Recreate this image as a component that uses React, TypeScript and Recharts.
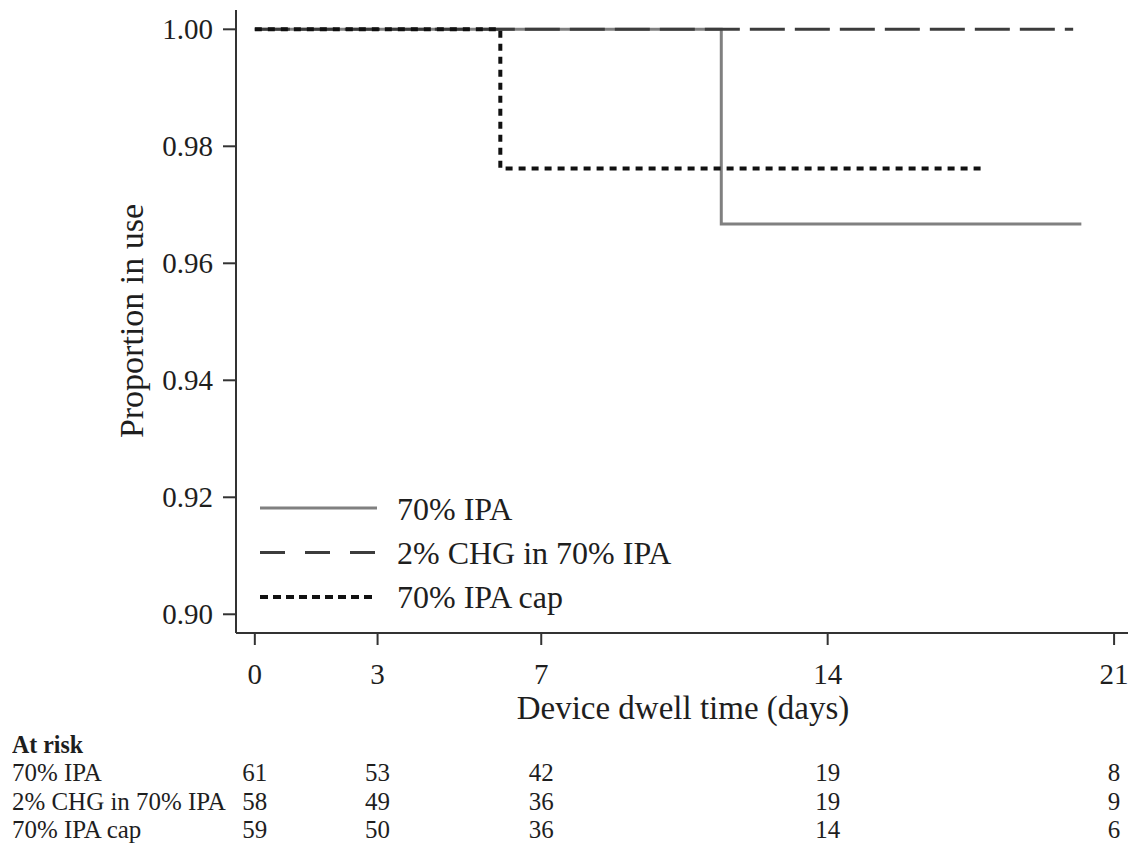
import { LineChart, Line, XAxis, YAxis, Legend } from 'recharts'

// Kaplan-Meier steps (time in days, proportion in use)
const ipaTime = [0, 11.4, 20.2]
const ipaSurv = [1, 0.9667, 0.9667]
const chgTime = [0, 20.0]
const chgSurv = [1, 1]
const capTime = [0, 6, 17.8]
const capSurv = [1, 0.9762, 0.9762]

const xTicks = [0, 3, 7, 14, 21]
const yTicks = [0.9, 0.92, 0.94, 0.96, 0.98, 1.0]

const seriesNames = ['70% IPA', '2% CHG in 70% IPA', '70% IPA cap']
const atRiskIpa = [61, 53, 42, 19, 8]
const atRiskChg = [58, 49, 36, 19, 9]
const atRiskCap = [59, 50, 36, 14, 6]
const atRiskRows = [atRiskIpa, atRiskChg, atRiskCap]

const toPoints = (t: number[], s: number[]) => t.map((v, i) => ({ t: v, s: s[i] }))

const series = [
  { name: seriesNames[0], data: toPoints(ipaTime, ipaSurv), color: '#808080', width: 3, dash: undefined, legendDash: undefined },
  { name: seriesNames[1], data: toPoints(chgTime, chgSurv), color: '#3c3c3c', width: 3, dash: '35 10', legendDash: '25 20' },
  { name: seriesNames[2], data: toPoints(capTime, capSurv), color: '#111111', width: 4, dash: '7 6', legendDash: '8 5' },
]

const FONT = 'Liberation Serif, Times New Roman, serif'
const TEXT = '#1e1e1e'
const AXIS = '#333333'
const TABLE_Y = 781
const ROW_GAP = 28.5
const TABLE_SCALE = 0.96

function XTick(props: any) {
  const { x, payload, index } = props
  return (
    <g>
      <text x={x} y={684} textAnchor="middle" fontSize={29} fontFamily={FONT} fill={TEXT}>
        {payload.value}
      </text>
      {atRiskRows.map((row, r) => (
        <text
          key={r}
          x={0}
          y={0}
          fontSize={26}
          fontFamily={FONT}
          fill={TEXT}
          textAnchor="middle"
          transform={`translate(${x},${TABLE_Y + r * ROW_GAP}) scale(${TABLE_SCALE},1)`}
        >
          {row[index]}
        </text>
      ))}
    </g>
  )
}

function YTick(props: any) {
  const { x, y, payload } = props
  return (
    <text x={x} y={y + 10} textAnchor="end" fontSize={29} fontFamily={FONT} fill={TEXT}>
      {Number(payload.value).toFixed(2)}
    </text>
  )
}

function LegendBox() {
  return (
    <svg width={460} height={135}>
      {series.map((s, i) => (
        <g key={s.name}>
          <line
            x1={5}
            x2={122}
            y1={18 + i * 44.5}
            y2={18 + i * 44.5}
            stroke={s.color}
            strokeWidth={s.width}
            strokeDasharray={s.legendDash}
          />
          <text x={142} y={30 + i * 44} fontSize={32} fontFamily={FONT} fill={TEXT}>
            {s.name}
          </text>
        </g>
      ))}
    </svg>
  )
}

export default function App() {
  return (
    <div style={{ position: 'absolute', left: 0, top: 0, width: 1130, height: 846, background: '#fff' }}>
      <LineChart
        width={1130}
        height={846}
        margin={{ top: 10, right: 2, left: 0, bottom: 153 }}
        style={{ fontFamily: FONT }}
      >
        <XAxis
          dataKey="t"
          type="number"
          domain={[-0.46, 21.34]}
          allowDataOverflow
          ticks={xTicks}
          interval={0}
          height={60}
          tickSize={12}
          stroke={AXIS}
          strokeWidth={2}
          tick={(p: any) => <XTick {...p} />}
          label={() => (
            <text x={683} y={719} textAnchor="middle" fontSize={33} fill={TEXT} fontFamily={FONT}>
              Device dwell time (days)
            </text>
          )}
        />
        <YAxis
          type="number"
          domain={[0.8968, 1.0033]}
          allowDataOverflow
          ticks={yTicks}
          interval={0}
          width={236}
          tickSize={13}
          tickMargin={10}
          stroke={AXIS}
          strokeWidth={2}
          tick={(p: any) => <YTick {...p} />}
          label={() => (
            <text
              x={143}
              y={321}
              textAnchor="middle"
              fontSize={34}
              fill={TEXT}
              fontFamily={FONT}
              transform="rotate(-90 143 321)"
            >
              Proportion in use
            </text>
          )}
        />
        {series.map((s) => (
          <Line
            key={s.name}
            data={s.data}
            dataKey="s"
            name={s.name}
            type="stepAfter"
            stroke={s.color}
            strokeWidth={s.width}
            strokeDasharray={s.dash}
            dot={false}
            activeDot={false}
            isAnimationActive={false}
          />
        ))}
        <Legend
          layout="vertical"
          align="center"
          verticalAlign="middle"
          content={() => <LegendBox />}
          wrapperStyle={{ left: 255, top: 490, width: 460, height: 135 }}
        />
      </LineChart>
      <svg width={260} height={846} style={{ position: 'absolute', left: 12, top: 0 }}>
        <text
          x={0}
          y={0}
          fontSize={26}
          fontWeight="bold"
          fill={TEXT}
          fontFamily={FONT}
          transform="translate(0,753) scale(0.92,1)"
        >
          At risk
        </text>
        {seriesNames.map((n, r) => (
          <text
            key={n}
            x={0}
            y={0}
            fontSize={26}
            fill={TEXT}
            fontFamily={FONT}
            transform={`translate(0,${TABLE_Y + r * ROW_GAP}) scale(${TABLE_SCALE},1)`}
          >
            {n}
          </text>
        ))}
      </svg>
    </div>
  )
}
